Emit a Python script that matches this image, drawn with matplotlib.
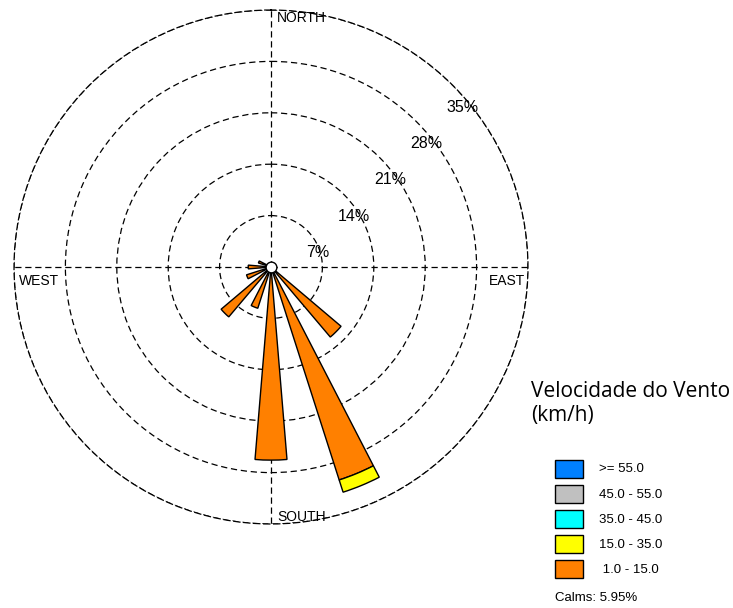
import numpy as np
import matplotlib
matplotlib.use("Agg")
import matplotlib.pyplot as plt
from matplotlib.patches import Rectangle

# 16 compass sectors, clockwise from north
directions = ["N", "NNE", "NE", "ENE", "E", "ESE", "SE", "SSE",
              "S", "SSW", "SW", "WSW", "W", "WNW", "NW", "NNW"]
# frequency (%) per speed class
freq_1_15 = [0, 0, 0, 0, 0, 0, 12.5, 30.45, 26.3, 5.9, 8.9, 3.5, 3.1, 1.8, 0, 0]
freq_15_35 = [0, 0, 0, 0, 0, 0, 0, 1.75, 0, 0, 0, 0, 0, 0, 0, 0]
freq_35_45 = [0] * 16
freq_45_55 = [0] * 16
freq_55_up = [0] * 16

class_labels = [">= 55.0", "45.0 - 55.0", "35.0 - 45.0", "15.0 - 35.0", " 1.0 - 15.0"]
class_colors = ["#0080FF", "#C0C0C0", "#00FFFF", "#FFFF00", "#FF8000"]
calms = 5.95

ring_values = [7, 14, 21, 28, 35]
compass_names = ["NORTH", "EAST", "SOUTH", "WEST"]

plt.rcParams["font.family"] = ["Liberation Sans", "DejaVu Sans"]

fig = plt.figure(figsize=(7.33, 6.08), dpi=100)
W, H = 733, 608
cx, cy, R = 271, 267, 257
ax = fig.add_axes([(cx - R) / W, (H - cy - R) / H, 2 * R / W, 2 * R / H],
                  projection="polar")
ax.set_theta_zero_location("N")
ax.set_theta_direction(-1)
ax.set_ylim(0, ring_values[-1])

dash = (0, (5, 3))
ax.set_rgrids(ring_values, labels=[""] * len(ring_values))
ax.set_thetagrids([0, 90, 180, 270], labels=[""] * 4)
ax.grid(True, color="black", linestyle=dash, linewidth=0.9)
ax.spines["polar"].set_linestyle(dash)
ax.spines["polar"].set_linewidth(0.9)
ax.tick_params(length=0)

theta = np.deg2rad(np.arange(16) * 22.5)
width = np.deg2rad(9.5)
stack = [freq_1_15, freq_15_35, freq_35_45, freq_45_55, freq_55_up]
bottom = np.zeros(16)
for vals, color in zip(stack, class_colors[::-1]):
    vals = np.asarray(vals, dtype=float)
    mask = vals > 0
    if mask.any():
        ax.bar(theta[mask], vals[mask], width=width, bottom=bottom[mask],
               color=color, edgecolor="black", linewidth=1.0, zorder=3)
    bottom += vals

# calm circle at the centre
ax.scatter([0], [0], s=60, facecolor="white", edgecolor="black",
           linewidth=1.0, zorder=5)

# ring percentages
for v in ring_values:
    ax.annotate(f"{v}%", xy=(np.deg2rad(45), v), xytext=(10, -22),
                textcoords="offset pixels", ha="center", va="center",
                fontsize=11.5, zorder=6)

# compass labels
rmax = ring_values[-1]
ax.annotate(compass_names[0], xy=(0, rmax), xytext=(6, -8),
            textcoords="offset pixels", ha="left", va="center", fontsize=10)
ax.annotate(compass_names[2], xy=(np.pi, rmax), xytext=(6, 7),
            textcoords="offset pixels", ha="left", va="center", fontsize=10)
ax.annotate(compass_names[3], xy=(1.5 * np.pi, rmax), xytext=(5, -14),
            textcoords="offset pixels", ha="left", va="center", fontsize=10)
ax.annotate(compass_names[1], xy=(0.5 * np.pi, rmax), xytext=(-3, -14),
            textcoords="offset pixels", ha="right", va="center", fontsize=10)

# legend block
def px(x, y):
    return x / W, 1 - y / H

title_font = ["Open Sans", "DejaVu Sans"]
fig.text(*px(531, 397), "Velocidade do Vento", ha="left", va="baseline",
         fontsize=15, family=title_font)
fig.text(*px(531, 421), "(km/h)", ha="left", va="baseline",
         fontsize=15, family=title_font)
box_w, box_h = 28, 18
for i, (lab, col) in enumerate(zip(class_labels, class_colors)):
    top = 459.5 + i * 25.2
    x0, y0 = px(555, top + box_h)
    fig.add_artist(Rectangle((x0, y0), box_w / W, box_h / H,
                             transform=fig.transFigure, facecolor=col,
                             edgecolor="black", linewidth=1.0))
    fig.text(*px(599, top + box_h / 2 + 1), lab, ha="left", va="center",
             fontsize=9.5)
fig.text(*px(555, 598), f"Calms: {calms:.2f}%", ha="left", va="center",
         fontsize=9.5)

fig.savefig("out.png", dpi=100)
